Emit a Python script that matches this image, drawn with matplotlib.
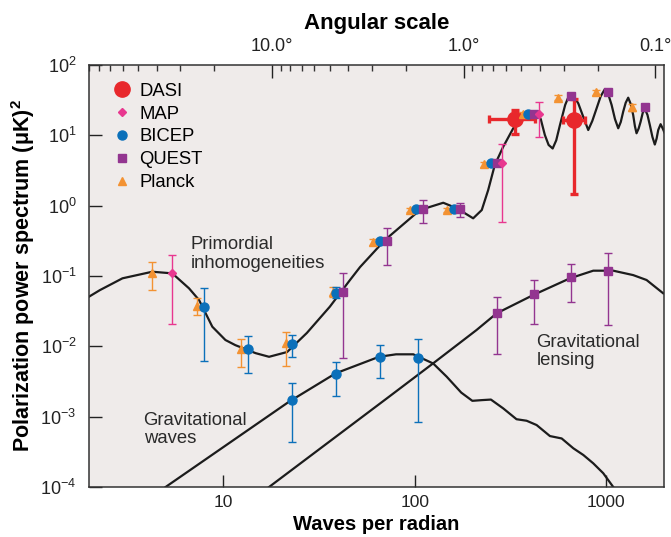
import matplotlib.pyplot as plt
from matplotlib.lines import Line2D
from matplotlib.ticker import FixedLocator, NullFormatter, NullLocator

plt.rcParams['font.family'] = ['Liberation Sans', 'DejaVu Sans']
plt.rcParams['mathtext.fontset'] = 'custom'
plt.rcParams['mathtext.rm'] = 'Liberation Sans'
plt.rcParams['mathtext.it'] = 'Liberation Sans:italic'
plt.rcParams['mathtext.bf'] = 'Liberation Sans:bold'

# theory curves (multipole l, power in uK^2)
primordial_l = [2.0, 2.28, 2.99, 4.28, 5.44, 6.65, 7.50, 8.80, 10.3, 11.6, 14.8, 17.4,
                21.6, 27.4, 36.1, 46.0, 51.9, 70.0, 106.6, 141, 166, 202, 224, 242,
                262, 290, 327, 376, 405, 432, 455, 478, 500, 525, 548, 573, 610, 646,
                680, 714, 760, 805, 845, 890, 935, 984, 1025, 1066, 1110, 1154, 1190,
                1225, 1262, 1301, 1340, 1381, 1410, 1438, 1475, 1510, 1550, 1590, 1640,
                1687, 1740, 1791, 1830, 1866, 1920, 1970, 2018]
primordial_c = [0.0508, 0.063, 0.0927, 0.115, 0.109, 0.0668, 0.0456, 0.0190, 0.0123,
                0.0104, 0.0080, 0.0071, 0.0083, 0.0155, 0.0366, 0.0877, 0.134, 0.325,
                0.867, 1.10, 0.918, 0.661, 0.867, 1.67, 3.8, 6.9, 12.6, 18.4, 20.5,
                21.2, 17.0, 10.1, 7.3, 6.5, 8.5, 14.0, 27.0, 39.6, 35.0, 28.5, 18.0,
                11.9, 16.0, 24.2, 36.0, 45.6, 38.0, 27.0, 17.0, 12.6, 15.5, 21.7, 29.0,
                34.3, 28.0, 19.5, 13.5, 10.7, 12.5, 15.6, 21.0, 23.7, 19.5, 14.0, 9.5,
                7.4, 9.0, 11.9, 14.4, 12.5, 10.7]

gw_l = [5.02, 22.1, 38.7, 65.2, 80, 98.4, 125, 147, 175, 200, 225, 250, 290, 340, 384,
        433, 508, 585, 673, 759, 855, 964, 1087]
gw_c = [1.0e-4, 1.63e-3, 4.13e-3, 7.1e-3, 7.7e-3, 7.7e-3, 5.7e-3, 3.7e-3, 2.2e-3,
        1.68e-3, 1.72e-3, 1.75e-3, 1.31e-3, 9.2e-4, 8.75e-4, 7.6e-4, 5.3e-4, 4.9e-4,
        3.55e-4, 2.85e-4, 2.17e-4, 1.57e-4, 1.0e-4]

lens_l = [17.4, 73.5, 125, 210, 268, 416, 646, 855, 1087, 1381, 1622, 1980]
lens_c = [1.0e-4, 1.92e-3, 5.74e-3, 1.7e-2, 2.95e-2, 5.37e-2, 9.27e-2, 0.119, 0.119,
          0.103, 0.0877, 0.0568]

# measurements: l, value, lower end, upper end of the error bar
dasi_l = [333, 682]
dasi_c = [16.8, 16.5]
dasi_lo = [10.5, 1.46]
dasi_hi = [22.9, 32.5]
dasi_l_lo = [245, 596]
dasi_l_hi = [425, 773]

map_l = [5.42, 287, 447]
map_c = [0.109, 4.0, 19.9]
map_lo = [0.0208, 0.59, 9.38]
map_hi = [0.199, 7.45, 30.1]

bicep_l = [7.96, 13.5, 23.0, 38.8, 65.9, 102, 160, 250, 392, 22.8, 38.7, 65.9, 104]
bicep_c = [0.0366, 0.00908, 0.0108, 0.0578, 0.318, 0.897, 0.897, 4.0, 19.9,
           1.73e-3, 4.0e-3, 7.1e-3, 6.76e-3]
bicep_lo = [0.00625, 0.00422, 0.00698, 0.0482, 0.318, 0.897, 0.897, 4.0, 19.9,
            4.4e-4, 1.97e-3, 3.6e-3, 8.5e-4]
bicep_hi = [0.0682, 0.0140, 0.0146, 0.0705, 0.318, 0.897, 0.897, 4.0, 19.9,
            3.04e-3, 6.04e-3, 1.05e-2, 1.26e-2]

quest_l = [42.1, 71.4, 111, 172, 270, 421, 652, 1023, 1589, 270, 419, 653, 1023]
quest_c = [0.0586, 0.318, 0.888, 0.888, 4.0, 19.9, 36.3, 40.9, 25.0,
           0.0295, 0.0549, 0.0968, 0.119]
quest_lo = [0.00676, 0.143, 0.573, 0.684, 4.0, 19.9, 36.3, 40.9, 25.0,
            0.0077, 0.0208, 0.0431, 0.0203]
quest_hi = [0.109, 0.486, 1.20, 1.08, 4.0, 19.9, 36.3, 40.9, 25.0,
            0.0508, 0.0877, 0.148, 0.214]

planck_l = [4.28, 7.34, 12.4, 21.2, 37.6, 60.8, 94.4, 148, 230, 369, 561, 881, 1368]
planck_c = [0.109, 0.0374, 0.00922, 0.0110, 0.0598, 0.307, 0.867, 0.867, 3.87, 19.9,
            34.3, 40.9, 25.0]
planck_lo = [0.0632, 0.0279, 0.00513, 0.0053, 0.0502, 0.28, 0.80, 0.80, 3.55, 18.3,
             31.5, 37.6, 22.4]
planck_hi = [0.157, 0.0482, 0.0128, 0.0161, 0.0697, 0.335, 0.94, 0.94, 4.2, 21.6,
             37.3, 44.5, 27.9]

angle_major = [10.0, 1.0, 0.1]
angle_labels = ['10.0°', '1.0°', '0.1°']
angle_minor = [90, 80, 70, 60, 50, 40, 30, 20, 9, 8, 7, 6, 5, 4, 3, 2,
               0.9, 0.8, 0.7, 0.6, 0.5, 0.4, 0.3, 0.2]

C_DASI = '#e8282c'
C_MAP = '#e8378f'
C_BICEP = '#0b70ba'
C_QUEST = '#933590'
C_PLANCK = '#f39232'
C_LINE = '#1c1c1c'
BG = '#efebea'


def err(c, lo, hi):
    return [[v - a for v, a in zip(c, lo)], [b - v for v, b in zip(c, hi)]]


fig = plt.figure(figsize=(6.71, 5.37), dpi=100)
ax = fig.add_axes([89 / 671, 1 - 487 / 537, 575 / 671, 422 / 537])
ax.set_facecolor(BG)
ax.set_xscale('log')
ax.set_yscale('log')

for ls, cs in [(primordial_l, primordial_c), (gw_l, gw_c), (lens_l, lens_c)]:
    ax.plot(ls, cs, color=C_LINE, lw=1.6, solid_joinstyle='round', zorder=2)

ax.errorbar(dasi_l, dasi_c, yerr=err(dasi_c, dasi_lo, dasi_hi),
            xerr=err(dasi_l, dasi_l_lo, dasi_l_hi), fmt='o', ms=11,
            color=C_DASI, ecolor=C_DASI, elinewidth=2.4, capsize=3, capthick=2.4, zorder=3)
ax.errorbar(planck_l, planck_c, yerr=err(planck_c, planck_lo, planck_hi), fmt='^', ms=5.5,
            color=C_PLANCK, ecolor=C_PLANCK, elinewidth=1.0, capsize=2.8, capthick=1.0, zorder=4)
ax.errorbar(bicep_l, bicep_c, yerr=err(bicep_c, bicep_lo, bicep_hi), fmt='o', ms=6.5,
            color=C_BICEP, ecolor=C_BICEP, elinewidth=1.0, capsize=2.8, capthick=1.0, zorder=5)
ax.errorbar(quest_l, quest_c, yerr=err(quest_c, quest_lo, quest_hi), fmt='s', ms=5.8,
            color=C_QUEST, ecolor=C_QUEST, elinewidth=1.0, capsize=2.8, capthick=1.0, zorder=6)
ax.errorbar(map_l, map_c, yerr=err(map_c, map_lo, map_hi), fmt='D', ms=4.2,
            color=C_MAP, ecolor=C_MAP, elinewidth=1.0, capsize=2.8, capthick=1.0, zorder=7)

ax.set_xlim(2, 2000)
ax.set_ylim(1e-4, 1e2)

ax.xaxis.set_major_locator(FixedLocator([10, 100, 1000]))
ax.xaxis.set_major_formatter(plt.FixedFormatter(['10', '100', '1000']))
ax.xaxis.set_minor_locator(NullLocator())
yt = [1e-4, 1e-3, 1e-2, 1e-1, 1e0, 1e1, 1e2]
ax.yaxis.set_major_locator(FixedLocator(yt))
ax.yaxis.set_major_formatter(plt.FixedFormatter(
    [r'$\mathregular{10^{%d}}$' % e for e in [-4, -3, -2, -1, 0, 1, 2]]))
ax.yaxis.set_minor_locator(NullLocator())
ax.tick_params(which='major', direction='in', length=9, width=1.0, pad=9,
               labelsize=13, colors='#222222', top=False, right=False)
ax.tick_params(axis='x', pad=6, labelsize=12.5)

for sp in ax.spines.values():
    sp.set_color('#333333')
    sp.set_linewidth(1.1)

ax2 = ax.twiny()
ax2.set_xscale('log')
ax2.set_xlim(ax.get_xlim())
ax2.xaxis.set_major_locator(FixedLocator([180 / a for a in angle_major]))
ax2.xaxis.set_major_formatter(plt.FixedFormatter(angle_labels))
ax2.xaxis.set_minor_locator(FixedLocator([180 / a for a in angle_minor]))
ax2.xaxis.set_minor_formatter(NullFormatter())
ax2.tick_params(which='major', direction='in', length=9, width=1.0, pad=7,
                labelsize=13, colors='#222222')
ax2.tick_params(which='minor', direction='in', length=4, width=1.0, colors='#333333')
ax2.set_xlabel('Angular scale', fontsize=16, fontweight='bold', labelpad=7)
for sp in ax2.spines.values():
    sp.set_visible(False)

ax.set_xlabel('Waves per radian', fontsize=14.5, fontweight='bold')
ax.xaxis.set_label_coords(0.5, -0.0675)
ax.set_ylabel('Polarization power spectrum (μK)$^{\\mathbf{2}}$', fontsize=15.5,
              fontweight='bold')
ax.yaxis.set_label_coords(-0.09, 0.5)

txt = dict(fontsize=13.3, color='#2a2a2a', linespacing=1.1)
ax.text(0.177, 0.594, 'Primordial\ninhomogeneities', transform=ax.transAxes, va='top', **txt)
ax.text(0.095, 0.178, 'Gravitational\nwaves', transform=ax.transAxes, va='top', **txt)
ax.text(0.778, 0.363, 'Gravitational\nlensing', transform=ax.transAxes, va='top', **txt)

handles = [
    Line2D([], [], ls='none', marker='o', ms=11, color=C_DASI),
    Line2D([], [], ls='none', marker='D', ms=4.2, color=C_MAP),
    Line2D([], [], ls='none', marker='o', ms=6.5, color=C_BICEP),
    Line2D([], [], ls='none', marker='s', ms=5.8, color=C_QUEST),
    Line2D([], [], ls='none', marker='^', ms=5.5, color=C_PLANCK),
]
ax.legend(handles, ['DASI', 'MAP', 'BICEP', 'QUEST', 'Planck'], loc='upper left',
          bbox_to_anchor=(0.026, 0.98), frameon=False, borderpad=0, handlelength=1.0,
          handletextpad=0.4, labelspacing=0.32, prop=dict(size=13.3))

fig.savefig('out.png', dpi=100)
